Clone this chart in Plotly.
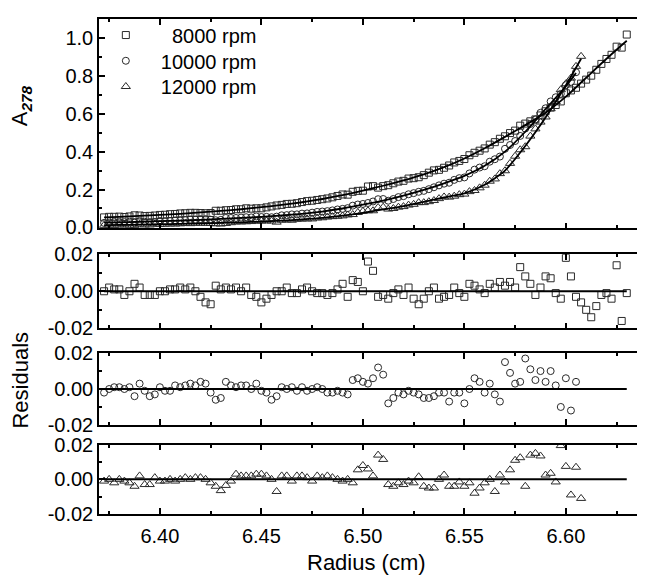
import plotly.graph_objects as go
from plotly.subplots import make_subplots

# radial positions of the scans (cm)
radius = [6.3725, 6.375, 6.3775, 6.380, 6.3825, 6.385, 6.3875, 6.390, 6.3925, 6.395, 6.3975,
          6.400, 6.4025, 6.405, 6.4075, 6.410, 6.4125, 6.415, 6.4175, 6.420, 6.4225,
          6.425, 6.4275, 6.430, 6.4325, 6.435, 6.4375, 6.440, 6.4425, 6.445, 6.4475,
          6.450, 6.4525, 6.455, 6.4575, 6.460, 6.4625, 6.465, 6.4675, 6.470, 6.4725,
          6.475, 6.4775, 6.480, 6.4825, 6.485, 6.4875, 6.490, 6.4925, 6.495, 6.4975,
          6.500, 6.5025, 6.505, 6.5075, 6.510, 6.5125, 6.515, 6.5175, 6.520, 6.5225,
          6.525, 6.5275, 6.530, 6.5325, 6.535, 6.5375, 6.540, 6.5425, 6.545, 6.5475,
          6.550, 6.5525, 6.555, 6.5575, 6.560, 6.5625, 6.565, 6.5675, 6.570, 6.5725,
          6.575, 6.5775, 6.580, 6.5825, 6.585, 6.5875, 6.590, 6.5925, 6.595, 6.5975,
          6.600, 6.6025, 6.605, 6.6075, 6.610, 6.6125, 6.615, 6.6175, 6.620, 6.6225,
          6.625, 6.6275, 6.630]

# absorbance at 278 nm
a_8000 = [0.053, 0.056, 0.056, 0.057, 0.055, 0.058, 0.064, 0.063, 0.060, 0.061, 0.063,
          0.066, 0.067, 0.070, 0.071, 0.074, 0.075, 0.077, 0.077, 0.076, 0.075,
          0.076, 0.088, 0.088, 0.091, 0.092, 0.096, 0.096, 0.101, 0.099, 0.101,
          0.101, 0.106, 0.111, 0.116, 0.119, 0.124, 0.125, 0.128, 0.134, 0.139,
          0.141, 0.145, 0.149, 0.153, 0.159, 0.166, 0.174, 0.173, 0.188, 0.193,
          0.194, 0.216, 0.218, 0.210, 0.218, 0.223, 0.233, 0.242, 0.246, 0.258,
          0.260, 0.265, 0.276, 0.289, 0.301, 0.304, 0.315, 0.327, 0.343, 0.351,
          0.361, 0.381, 0.394, 0.405, 0.417, 0.437, 0.450, 0.468, 0.481, 0.498,
          0.511, 0.537, 0.548, 0.560, 0.570, 0.591, 0.613, 0.633, 0.646, 0.665,
          0.708, 0.723, 0.737, 0.759, 0.780, 0.801, 0.832, 0.863, 0.889, 0.911,
          0.954, 0.949, 1.018]
a_10000 = [0.024, 0.026, 0.028, 0.028, 0.028, 0.030, 0.025, 0.033, 0.030, 0.028, 0.029,
           0.034, 0.033, 0.034, 0.037, 0.037, 0.039, 0.041, 0.041, 0.044, 0.044,
           0.041, 0.038, 0.040, 0.050, 0.050, 0.050, 0.052, 0.054, 0.053, 0.058,
           0.055, 0.056, 0.054, 0.057, 0.064, 0.065, 0.069, 0.069, 0.073, 0.074,
           0.078, 0.082, 0.084, 0.086, 0.090, 0.095, 0.098, 0.102, 0.115, 0.121,
           0.124, 0.129, 0.137, 0.149, 0.150, 0.141, 0.150, 0.160, 0.165, 0.175,
           0.181, 0.188, 0.193, 0.202, 0.212, 0.222, 0.231, 0.236, 0.251, 0.260,
           0.264, 0.285, 0.305, 0.316, 0.323, 0.347, 0.360, 0.374, 0.415, 0.435,
           0.456, 0.483, 0.522, 0.546, 0.570, 0.605, 0.629, 0.665, 0.687, 0.705,
           0.751, 0.768, 0.819]
a_12000 = [0.011, 0.013, 0.011, 0.013, 0.013, 0.012, 0.011, 0.017, 0.013, 0.013, 0.018,
           0.016, 0.017, 0.018, 0.018, 0.019, 0.021, 0.020, 0.022, 0.022, 0.022,
           0.021, 0.019, 0.018, 0.021, 0.025, 0.029, 0.029, 0.030, 0.031, 0.033,
           0.034, 0.034, 0.034, 0.028, 0.038, 0.040, 0.038, 0.043, 0.044, 0.045,
           0.045, 0.050, 0.051, 0.055, 0.057, 0.059, 0.061, 0.066, 0.068, 0.079,
           0.085, 0.088, 0.088, 0.105, 0.107, 0.097, 0.100, 0.107, 0.110, 0.118,
           0.122, 0.131, 0.131, 0.136, 0.142, 0.152, 0.161, 0.160, 0.165, 0.173,
           0.176, 0.189, 0.195, 0.209, 0.223, 0.244, 0.256, 0.284, 0.299, 0.338,
           0.376, 0.410, 0.426, 0.482, 0.520, 0.556, 0.583, 0.626, 0.664, 0.727,
           0.758, 0.788, 0.850, 0.903]

# fitted curves
fit_r_8000 = [6.3725, 6.38, 6.39, 6.40, 6.41, 6.42, 6.43, 6.44, 6.45, 6.46, 6.47, 6.48, 6.49,
              6.50, 6.51, 6.52, 6.53, 6.54, 6.55, 6.56, 6.57, 6.58, 6.59, 6.60, 6.61, 6.62, 6.63]
fit_8000 = [0.053, 0.056, 0.061, 0.066, 0.072, 0.079, 0.087, 0.096, 0.107, 0.119, 0.133, 0.150, 0.170,
            0.194, 0.220, 0.248, 0.280, 0.318, 0.364, 0.418, 0.478, 0.540, 0.605, 0.690, 0.790, 0.890, 0.985]
fit_r_10000 = [6.3725, 6.38, 6.39, 6.40, 6.41, 6.42, 6.43, 6.44, 6.45, 6.46, 6.47, 6.48, 6.49,
               6.50, 6.51, 6.52, 6.53, 6.54, 6.55, 6.56, 6.57, 6.58, 6.59, 6.60, 6.605]
fit_10000 = [0.0255, 0.027, 0.030, 0.033, 0.036, 0.040, 0.045, 0.050, 0.056, 0.063, 0.072, 0.084, 0.100,
             0.120, 0.142, 0.168, 0.198, 0.233, 0.272, 0.325, 0.400, 0.505, 0.625, 0.745, 0.815]
fit_r_12000 = [6.3725, 6.38, 6.39, 6.40, 6.41, 6.42, 6.43, 6.44, 6.45, 6.46, 6.47, 6.48, 6.49,
               6.50, 6.51, 6.52, 6.53, 6.54, 6.55, 6.56, 6.57, 6.58, 6.59, 6.60, 6.6075]
fit_12000 = [0.0123, 0.013, 0.015, 0.017, 0.019, 0.021, 0.024, 0.027, 0.031, 0.036, 0.042, 0.050, 0.062,
             0.077, 0.095, 0.113, 0.135, 0.158, 0.180, 0.225, 0.300, 0.430, 0.580, 0.750, 0.890]

# residuals of the fits
res_8000 = [0.000, 0.002, 0.001, 0.001, -0.002, 0.000, 0.004, 0.002, -0.002, -0.002, -0.002,
            0.000, 0.000, 0.001, 0.001, 0.002, 0.001, 0.002, 0.000, -0.003, -0.006,
            -0.007, 0.003, 0.001, 0.002, 0.001, 0.002, 0.000, 0.002, -0.002, -0.003,
            -0.006, -0.004, -0.002, 0.000, 0.000, 0.002, -0.001, -0.001, 0.001, 0.002,
            0.000, -0.001, -0.001, -0.002, -0.001, 0.001, 0.004, -0.003, 0.006, 0.005,
            0.000, 0.016, 0.011, -0.003, -0.002, -0.004, -0.001, 0.001, -0.002, 0.002,
            -0.004, -0.007, -0.004, 0.000, 0.002, -0.004, -0.003, -0.002, 0.002, -0.001,
            -0.003, 0.004, 0.003, 0.001, -0.001, 0.004, 0.002, 0.005, 0.003, 0.005,
            0.002, 0.013, 0.008, 0.004, -0.002, 0.002, 0.008, 0.007, -0.001, -0.004,
            0.018, 0.008, -0.003, -0.006, -0.010, -0.014, -0.008, -0.002, -0.001, -0.004,
            0.014, -0.016, -0.001]
res_10000 = [-0.002, 0.000, 0.001, 0.001, 0.000, 0.001, -0.004, 0.003, -0.001, -0.004, -0.003,
             0.001, -0.001, -0.001, 0.002, 0.001, 0.002, 0.003, 0.002, 0.004, 0.003,
             -0.002, -0.006, -0.005, 0.004, 0.002, 0.001, 0.002, 0.002, 0.000, 0.003,
             -0.001, -0.002, -0.006, -0.004, 0.001, 0.000, 0.001, -0.001, 0.001, -0.001,
             0.000, 0.001, 0.000, -0.002, -0.002, -0.001, -0.002, -0.003, 0.005, 0.006,
             0.004, 0.003, 0.006, 0.012, 0.008, -0.008, -0.005, -0.002, -0.003, -0.001,
             -0.002, -0.003, -0.005, -0.005, -0.004, -0.002, -0.002, -0.007, -0.002, -0.002,
             -0.008, 0.000, 0.006, 0.004, -0.002, 0.003, -0.003, -0.007, 0.015, 0.009,
             0.003, 0.004, 0.017, 0.011, 0.005, 0.010, 0.004, 0.010, 0.002, -0.010,
             0.006, -0.012, 0.004]
res_12000 = [-0.001, 0.000, -0.002, 0.000, -0.001, -0.002, -0.004, 0.002, -0.003, -0.003, 0.001,
             -0.001, -0.001, 0.000, -0.001, 0.000, 0.001, 0.000, 0.001, 0.001, 0.000,
             -0.002, -0.004, -0.0065, -0.0035, -0.001, 0.003, 0.002, 0.002, 0.002, 0.003,
             0.003, 0.002, 0.000, -0.007, 0.002, 0.002, -0.001, 0.002, 0.002, 0.001,
             -0.001, 0.002, 0.001, 0.002, 0.001, 0.000, -0.001, 0.000, -0.002, 0.0055,
             0.008, 0.006, 0.002, 0.014, 0.0115, -0.003, -0.004, -0.002, -0.003, -0.001,
             -0.002, 0.0015, -0.004, -0.005, -0.005, 0.000, 0.0025, -0.004, -0.004, -0.0015,
             -0.004, -0.002, -0.008, -0.005, -0.002, 0.000, -0.007, 0.0025, -0.0015, 0.0055,
             0.011, 0.0125, -0.004, 0.014, 0.015, 0.0135, 0.0025, 0.0035, -0.0015, 0.0195,
             0.0075, -0.009, 0.007, -0.011]

names = ["\u00a0\u00a08000 rpm", "10000 rpm", "12000 rpm"]
symbols = ["square-open", "circle-open", "triangle-up-open"]
sizes = [7, 7, 8]

y_ticks = [0.0, 0.2, 0.4, 0.6, 0.8, 1.0]
y_ticktext = ["0.0", "0.2", "0.4", "0.6", "0.8", "1.0"]
res_ticks = [-0.02, 0.0, 0.02]
res_ticktext = ["-0.02", "0.00", "0.02"]
x_ticks = [6.40, 6.45, 6.50, 6.55, 6.60]
x_ticktext = ["6.40", "6.45", "6.50", "6.55", "6.60"]

FONT = "Arial, 'Liberation Sans', sans-serif"
MK = "#2a2a2a"

fig = make_subplots(rows=4, cols=1, shared_xaxes=True)

data_a = [a_8000, a_10000, a_12000]
fits = [(fit_r_8000, fit_8000), (fit_r_10000, fit_10000), (fit_r_12000, fit_12000)]
resids = [res_8000, res_10000, res_12000]
legend_ids = ["legend", "legend2", "legend3"]

for k in range(3):
    n = len(data_a[k])
    fig.add_trace(go.Scatter(x=radius[:n], y=data_a[k], mode="markers", name=names[k],
                             legend=legend_ids[k],
                             marker=dict(symbol=symbols[k], size=sizes[k],
                                         color=MK, line=dict(width=1, color=MK))),
                  row=1, col=1)
for k in range(3):
    fig.add_trace(go.Scatter(x=fits[k][0], y=fits[k][1], mode="lines", showlegend=False,
                             line=dict(color="black", width=1.8, shape="spline", smoothing=0.6)),
                  row=1, col=1)

for k in range(3):
    n = len(resids[k])
    fig.add_trace(go.Scatter(x=radius[:n], y=resids[k], mode="markers", showlegend=False,
                             marker=dict(symbol=symbols[k], size=sizes[k],
                                         color=MK, line=dict(width=1, color=MK))),
                  row=k + 2, col=1)
    fig.add_trace(go.Scatter(x=[radius[0], radius[-1]], y=[0, 0], mode="lines", showlegend=False,
                             line=dict(color="black", width=2)),
                  row=k + 2, col=1)

axis_common = dict(showline=True, linecolor="black", linewidth=1.5, mirror="allticks",
                   ticks="inside", ticklen=6, tickwidth=1.5, tickcolor="black",
                   showgrid=False, zeroline=False)

domains = [[0.577, 1.0], [0.375, 0.525], [0.180, 0.325], [0.0, 0.140]]
for i in range(4):
    fig.update_xaxes(range=[6.370, 6.638], tickvals=x_ticks, ticktext=x_ticktext,
                     minor=dict(dtick=0.025, tick0=6.375, ticks="inside", ticklen=3.5,
                                tickwidth=1.5, tickcolor="black"),
                     showticklabels=(i == 3), tickfont=dict(size=20), ticklabelstandoff=3,
                     **axis_common, row=i + 1, col=1)
    fig.update_yaxes(domain=domains[i], row=i + 1, col=1)

fig.update_yaxes(range=[-0.005, 1.1], tickvals=y_ticks, ticktext=y_ticktext,
                 minor=dict(dtick=0.1, tick0=0, ticks="inside", ticklen=3.5, tickwidth=1.5,
                            tickcolor="black"),
                 tickfont=dict(size=20), **axis_common, row=1, col=1)
for r in (2, 3, 4):
    fig.update_yaxes(range=[-0.02, 0.02], tickvals=res_ticks, ticktext=res_ticktext,
                     minor=dict(dtick=0.01, tick0=0, ticks="inside", ticklen=3.5, tickwidth=1.5,
                                tickcolor="black"),
                     tickfont=dict(size=20), **axis_common, row=r, col=1)

legend_style = dict(x=-0.015, xanchor="left", yanchor="top", bgcolor="rgba(0,0,0,0)",
                    font=dict(size=20), itemwidth=60)

# the page body adds an 8px margin, so the figure is drawn 8px smaller than the window
fig.update_layout(
    width=637, height=569,
    margin=dict(l=91, r=0, t=5, b=63),
    paper_bgcolor="white", plot_bgcolor="white",
    font=dict(family=FONT, color="black", size=20),
    legend=dict(y=1.007, **legend_style),
    legend2=dict(y=0.955, **legend_style),
    legend3=dict(y=0.903, **legend_style),
    annotations=[
        dict(text="A<sub><b><i>278</i></b></sub>", xref="paper", yref="paper", x=-0.144, y=0.825,
             textangle=-90, showarrow=False, font=dict(size=22), xanchor="center", yanchor="middle"),
        dict(text="Residuals", xref="paper", yref="paper", x=-0.144, y=0.271,
             textangle=-90, showarrow=False, font=dict(size=22), xanchor="center", yanchor="middle"),
        dict(text="Radius (cm)", xref="paper", yref="paper", x=0.491, y=-0.098,
             showarrow=False, font=dict(size=22), xanchor="center", yanchor="middle"),
    ],
)

fig.write_html("out.html")
